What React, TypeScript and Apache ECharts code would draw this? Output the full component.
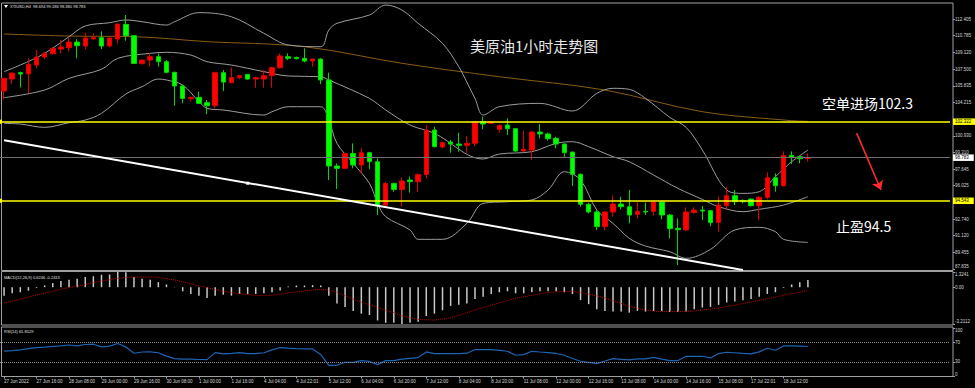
import React, { useEffect, useRef } from 'react';
import * as echarts from 'echarts';

// ---------- data ----------
const timeLabels = [
  '27 Jun 2022', '27 Jun 16:00', '28 Jun 08:00', '29 Jun 00:00', '29 Jun 16:00',
  '30 Jun 08:00', '1 Jul 00:00', '1 Jul 16:00', '4 Jul 04:00', '4 Jul 22:01',
  '5 Jul 12:00', '6 Jul 04:00', '6 Jul 20:00', '7 Jul 12:00', '8 Jul 04:00',
  '8 Jul 20:00', '11 Jul 08:00', '12 Jul 00:00', '12 Jul 16:00', '13 Jul 08:00',
  '14 Jul 00:00', '14 Jul 16:00', '15 Jul 08:00', '17 Jul 22:01', '18 Jul 12:00',
];

// [open, high, low, close]
const candles: number[][] = [
  [105.33, 106.60, 104.51, 106.58], [106.51, 107.15, 106.02, 107.10], [107.14, 107.24, 105.69, 107.01],
  [107.01, 108.55, 105.10, 107.96], [107.89, 109.37, 107.56, 108.68], [108.68, 109.20, 108.48, 109.04],
  [109.01, 109.63, 108.94, 109.53], [109.46, 110.35, 109.04, 109.66], [109.60, 110.51, 109.20, 110.15],
  [110.15, 110.42, 108.55, 109.79], [109.76, 111.07, 109.43, 110.55], [110.45, 111.01, 110.42, 110.58],
  [110.58, 111.20, 109.46, 109.76], [109.76, 110.58, 109.63, 110.55], [110.45, 111.95, 110.02, 111.92],
  [111.89, 112.81, 110.28, 110.78], [110.78, 110.84, 107.99, 108.05], [108.02, 108.42, 107.96, 108.38],
  [108.38, 109.10, 107.73, 108.71], [108.71, 109.04, 107.73, 108.22], [108.22, 108.38, 107.07, 107.17],
  [107.17, 107.24, 103.89, 105.83], [105.83, 105.93, 104.12, 104.61], [104.58, 104.78, 104.29, 104.71],
  [104.71, 105.27, 104.06, 104.12], [104.19, 104.45, 103.07, 103.89], [103.89, 107.24, 103.63, 107.14],
  [107.14, 107.40, 105.33, 106.22], [106.15, 107.66, 106.10, 106.65], [106.65, 106.91, 106.51, 106.84],
  [106.97, 107.00, 106.45, 106.51], [106.51, 106.74, 105.66, 106.65], [106.51, 107.40, 105.66, 106.84],
  [106.84, 107.73, 105.66, 107.63], [107.63, 109.04, 107.56, 108.78], [108.71, 109.04, 108.38, 108.55],
  [108.65, 108.71, 108.45, 108.51], [108.55, 109.53, 108.15, 108.28], [108.28, 108.50, 107.73, 108.48],
  [108.48, 108.55, 106.02, 106.42], [106.42, 107.14, 96.58, 97.96], [97.96, 98.22, 95.70, 97.73],
  [97.73, 99.25, 97.65, 99.20], [99.20, 100.19, 97.73, 98.06], [98.06, 99.70, 97.17, 99.27],
  [99.27, 99.37, 97.63, 98.38], [98.38, 98.71, 93.14, 94.12], [94.12, 96.42, 93.96, 96.25],
  [96.25, 96.32, 95.43, 95.66], [95.66, 96.84, 93.96, 96.48], [96.58, 96.91, 95.34, 96.42],
  [96.42, 97.24, 95.43, 97.11], [97.11, 101.99, 96.74, 101.50], [101.50, 101.83, 99.80, 99.86],
  [99.83, 100.35, 99.70, 100.25], [100.32, 100.52, 99.27, 100.12], [100.12, 101.24, 99.37, 99.99],
  [99.99, 100.91, 99.27, 100.19], [100.19, 102.38, 99.86, 102.32], [102.32, 102.81, 101.56, 102.09],
  [102.16, 102.38, 102.09, 102.32], [101.56, 102.02, 101.24, 101.96], [101.99, 102.65, 101.01, 101.63],
  [101.63, 101.66, 99.37, 99.43], [99.43, 101.43, 99.37, 99.60], [99.53, 101.43, 98.55, 101.30],
  [101.30, 102.09, 100.68, 101.11], [101.11, 101.24, 100.45, 100.65], [100.68, 100.84, 99.70, 100.12],
  [100.12, 100.19, 98.88, 99.27], [99.33, 99.37, 95.99, 97.14], [97.14, 97.24, 93.96, 94.19],
  [94.19, 94.35, 93.30, 93.44], [93.44, 93.63, 91.67, 92.00], [92.00, 93.50, 91.67, 93.44],
  [93.44, 95.07, 92.98, 94.22], [94.22, 94.94, 93.70, 93.96], [93.96, 95.60, 92.32, 93.14],
  [93.21, 94.39, 92.81, 93.50], [93.50, 94.35, 93.14, 93.44], [93.50, 94.45, 93.08, 94.42],
  [94.42, 94.45, 92.71, 93.14], [93.14, 93.24, 90.85, 91.80], [91.84, 92.81, 88.22, 91.70],
  [91.67, 93.89, 91.60, 93.44], [93.37, 93.89, 93.30, 93.63], [93.63, 94.03, 92.65, 93.53],
  [93.57, 93.63, 92.06, 92.39], [92.42, 94.94, 91.50, 94.12], [94.06, 95.93, 93.70, 95.04],
  [95.04, 95.60, 94.12, 94.45], [94.55, 94.68, 94.29, 94.45], [94.71, 94.78, 93.96, 94.06],
  [94.06, 95.01, 92.65, 94.88], [94.88, 97.34, 94.68, 96.81], [96.81, 97.24, 95.43, 96.02],
  [96.02, 99.40, 95.93, 99.01], [99.01, 99.40, 98.16, 98.81], [98.88, 98.94, 98.22, 98.68],
  [98.694, 99.186, 98.380, 98.783],
];

// Bollinger bands and slow MA, read at bar indices: [barIndex, price]
const bollUpper = [
  [0, 107.24], [2, 107.89], [5, 109.04], [8, 110.68], [10, 111.73], [13, 112.05], [15, 112.32],
  [17, 112.15], [20, 111.82], [21, 112.15], [24, 113.04], [28, 112.64], [32, 111.01], [35, 109.86],
  [39, 109.69], [40, 111.33], [41, 111.99], [45, 112.81], [47, 113.79], [49, 113.30], [51, 111.99],
  [54, 110.02], [56, 107.73], [57, 106.2], [58, 104.6], [59, 102.97], [61, 103.79], [66, 104.12],
  [70, 103.37], [73, 105.10], [75, 105.60], [77, 105.50], [79, 104.61], [82, 102.74], [84, 101.76],
  [86, 99.53], [89, 95.60], [91, 95.27], [93, 95.43], [95, 96.91], [97, 98.38], [99, 99.53],
];
const bollMiddle = [
  [0, 104.68], [5, 105.43], [8, 106.58], [12, 107.47], [14, 108.55], [18, 109.04], [20, 109.14],
  [23, 108.87], [25, 108.22], [28, 107.89], [32, 107.24], [35, 106.81], [39, 106.74], [40, 106.42],
  [45, 104.61], [47, 103.47], [50, 101.99], [53, 101.17], [59, 98.65], [61, 99.14], [65, 99.37],
  [68, 100.19], [70, 100.35], [72, 99.86], [75, 98.88], [77, 98.38], [80, 97.07], [83, 95.76],
  [86, 94.68], [88, 93.96], [91, 93.47], [93, 93.70], [96, 94.12], [99, 94.94],
];
const bollLower = [
  [0, 102.15], [2, 102.09], [5, 101.76], [8, 102.22], [10, 102.48], [12, 103.14], [15, 105.04],
  [17, 105.76], [19, 106.51], [20, 106.42], [22, 105.92], [24, 104.29], [25, 103.63], [27, 103.47],
  [32, 102.97], [33, 103.30], [35, 103.79], [39, 103.79], [40, 102.48], [41, 100.19], [43, 98.22],
  [45, 96.25], [46, 94.29], [47, 92.98], [50, 91.67], [51, 90.75], [54, 90.75], [57, 92.32],
  [59, 94.29], [62, 94.45], [65, 94.62], [67, 95.60], [69, 97.40], [71, 96.58], [73, 93.63],
  [75, 92.32], [77, 90.85], [79, 90.09], [82, 89.53], [84, 88.88], [87, 89.76], [90, 91.67],
  [93, 91.93], [95, 91.50], [96, 90.75], [99, 90.45],
];
const slowMA = [
  [0, 110.94], [8, 110.74], [16, 110.68], [25, 110.19], [37, 109.69], [49, 108.06], [61, 106.74],
  [74, 105.43], [86, 103.30], [97, 102.42], [99, 102.35],
];

const macdHist = [
  -0.74, -0.53, -0.44, -0.30, -0.06, 0.15, 0.36, 0.53, 0.65, 0.74, 0.89, 0.95, 1.08, 1.10, 1.3241, 1.30,
  0.89, 0.74, 0.65, 0.44, 0.24, 0.02, -0.36, -0.59, -0.74, -0.95, -0.74, -0.65, -0.74, -0.59, -0.59, -0.59,
  -0.53, -0.44, -0.30, 0.05, 0.15, 0.15, 0.18, 0.15, -0.74, -1.42, -1.72, -2.07, -2.31, -2.43, -2.90, -3.11,
  -3.11, -3.2112, -3.11, -3.02, -2.52, -2.31, -2.01, -1.63, -1.54, -1.42, -1.04, -0.83, -0.59, -0.44, -0.36, -0.53,
  -0.53, -0.44, -0.36, -0.36, -0.36, -0.44, -0.59, -1.13, -1.48, -1.93, -2.07, -2.13, -2.13, -2.22, -2.07, -2.13,
  -2.07, -2.07, -2.16, -2.16, -2.13, -1.93, -1.78, -1.72, -1.54, -1.33, -1.24, -1.13, -1.04, -0.83, -0.59, -0.44,
  -0.06, 0.24, 0.44, 0.6246,
];
const macdSignal = [
  -1.39, -1.21, -1.04, -0.86, -0.68, -0.53, -0.36, -0.18, -0.03, 0.09, 0.24, 0.41, 0.53, 0.65, 0.77, 0.83,
  0.89, 0.89, 0.89, 0.86, 0.74, 0.62, 0.47, 0.30, 0.12, -0.03, -0.21, -0.36, -0.47, -0.56, -0.65, -0.71,
  -0.74, -0.71, -0.62, -0.50, -0.41, -0.33, -0.24, -0.18, -0.24, -0.44, -0.77, -1.04, -1.30, -1.54, -1.78, -2.01,
  -2.22, -2.50, -2.67, -2.81, -2.84, -2.87, -2.78, -2.67, -2.46, -2.22, -1.99, -1.78, -1.57, -1.36, -1.16, -0.98,
  -0.83, -0.71, -0.59, -0.47, -0.41, -0.39, -0.36, -0.47, -0.62, -0.77, -0.95, -1.19, -1.42, -1.66, -1.84, -1.99,
  -2.07, -2.13, -2.13, -2.13, -2.10, -2.07, -1.99, -1.90, -1.81, -1.69, -1.57, -1.42, -1.30, -1.16, -1.01, -0.86,
  -0.71, -0.56, -0.44, -0.2413,
];
const rsi14 = [
  52.5, 53.5, 55, 57.5, 59.5, 60.5, 62, 63, 65, 63, 66, 66.6, 61, 62.5, 68, 61,
  48, 50.5, 50.7, 49, 42, 37, 36, 36, 35, 34.8, 49.3, 46.6, 47.5, 49.3, 47.3, 47.3,
  49, 55, 59.7, 58.5, 57.5, 57, 56.9, 45.2, 23.1, 23.1, 29.3, 29.3, 32.8, 31, 24.5, 32.8,
  32.8, 36, 37.5, 39, 50.7, 47.3, 47.3, 47.3, 47.3, 48, 55.6, 55.6, 55.6, 54, 52.1, 43.8,
  45.2, 52, 50.5, 49.3, 47.5, 43.8, 37, 31.4, 29, 26.5, 32, 36.9, 35.5, 34.1, 36.2, 36.2,
  39.5, 36, 32.8, 32.8, 41.7, 41.7, 41.7, 38.3, 47.3, 50, 49, 47.5, 46.6, 50.7, 58.3, 54.2,
  63, 63.1, 62.5, 61.8529,
];

const priceTicks = [112.405, 110.785, 109.120, 107.500, 105.835, 104.215, 100.930, 99.310, 97.645, 96.025, 92.740, 91.120, 89.455];
const priceBottomTick = [87.835];
const macdTopTick = [1.3241];
const macdMidTick = [0];
const macdBottomTick = [-3.2112];
const rsiTopTick = [100];
const rsiMidTicks = [70, 30];
const rsiBottomTick = [0];
const rsiLevels = [70, 30];
const entryLevel = 102.322;
const takeProfitLevel = 94.543;
const lastPrice = 98.783;
const trendLine = [[0, 100.50], [91, 87.74]];
const trendMarker = [30, 96.27];
const arrowLine = [[105, 101.2], [108, 95.6]];

const headerText = 'XTIUSD,H4  98.694 99.186 98.380 98.783';
const macdHeader = 'MACD(12,26,9) 0.6246 -0.2413';
const rsiHeader = 'RSI(14) 61.8529';
const titleText = '美原油1小时走势图';
const entryText = '空单进场102.3';
const tpText = '止盈94.5';

// ---------- layout ----------
const SLOTS = 117;
const GRID_W = 950;
const TINY = 4.5;
const TINY_FONT = 'Liberation Sans, Arial, sans-serif';
const CJK_FONT = 'Noto Sans CJK SC, sans-serif';
const MAIN_RANGE = [87.735, 113.99];
const MACD_RANGE = [-3.2112, 1.3241];
const RSI_RANGE = [0, 100];

const categories = Array.from({ length: SLOTS }, (_, i) => String(i));
const showTime = (i: number) => i % 4 === 0 && i / 4 < timeLabels.length;

function buildOption() {
  const candleData = candles.map(([o, h, l, c]) => [o, c, l, h]);
  const xBase = (gi: number, show: boolean) => ({
    type: 'category',
    gridIndex: gi,
    data: categories,
    boundaryGap: true,
    axisLine: { show: false },
    splitLine: { show: false },
    axisTick: show
      ? { show: true, alignWithLabel: true, interval: (i: number) => showTime(i), length: 2, lineStyle: { color: '#a0a0a0' } }
      : { show: false },
    axisLabel: show
      ? {
          show: true,
          interval: (i: number) => showTime(i),
          formatter: (_v: string, i: number) => (showTime(i) ? timeLabels[i / 4] : ''),
          color: '#d8d8d8',
          fontSize: TINY,
          fontFamily: TINY_FONT,
          align: 'left',
          margin: 2,
        }
      : { show: false },
  });
  const yBase = (
    gi: number,
    range: number[],
    ticks: number[],
    fmt: (v: number) => string,
    vAlign: string,
  ) => ({
    type: 'value',
    gridIndex: gi,
    position: 'right',
    offset: 3,
    min: range[0],
    max: range[1],
    splitLine: { show: false },
    axisLine: { show: false },
    axisTick: { show: true, customValues: ticks, length: 2, lineStyle: { color: '#a0a0a0' } },
    axisLabel: {
      show: true,
      customValues: ticks,
      formatter: fmt,
      color: '#d8d8d8',
      fontSize: TINY,
      fontFamily: TINY_FONT,
      margin: 2,
      verticalAlign: vAlign,
    },
  });

  const boxLabel = (bg: string, text: string) => ({
    show: true,
    position: 'end',
    distance: 3,
    formatter: text,
    color: '#000',
    backgroundColor: bg,
    fontSize: TINY,
    fontFamily: TINY_FONT,
    padding: [1, 5, 0.5, 2],
  });

  const bandLine = (name: string, data: number[][], color: string, extra: any = {}) => ({
    name,
    type: 'line',
    xAxisIndex: 0,
    yAxisIndex: 0,
    data,
    showSymbol: false,
    symbol: 'none',
    smooth: 0.35,
    connectNulls: true,
    lineStyle: { color, width: 1 },
    z: 3,
    silent: true,
    ...extra,
  });

  const f3 = (v: number) => v.toFixed(3);
  const f4 = (v: number) => v.toFixed(4);

  return {
    animation: false,
    backgroundColor: '#000',
    grid: [
      { left: 0, top: 3, width: GRID_W, height: 267, outerBoundsMode: 'none' },
      { left: 0, top: 272, width: GRID_W, height: 52, outerBoundsMode: 'none' },
      { left: 0, top: 328, width: GRID_W, height: 48.5, outerBoundsMode: 'none' },
    ],
    xAxis: [xBase(0, false), xBase(1, false), xBase(2, true)],
    yAxis: [
      yBase(0, MAIN_RANGE, priceTicks, f3, 'middle'), // 0
      yBase(1, MACD_RANGE, macdMidTick, () => '0.00', 'middle'), // 1
      yBase(2, RSI_RANGE, rsiMidTicks, (v) => String(v), 'middle'), // 2
      yBase(0, MAIN_RANGE, priceBottomTick, f3, 'bottom'), // 3
      yBase(1, MACD_RANGE, macdTopTick, f4, 'top'), // 4
      yBase(1, MACD_RANGE, macdBottomTick, f4, 'bottom'), // 5
      yBase(2, RSI_RANGE, rsiTopTick, (v) => String(v), 'top'), // 6
      yBase(2, RSI_RANGE, rsiBottomTick, (v) => String(v), 'bottom'), // 7
    ],
    graphic: [
      { type: 'rect', shape: { x: 1.5, y: 3, width: 951.5, height: 267.5 }, style: { fill: 'none', stroke: '#a0a0a0', lineWidth: 1 }, silent: true },
      { type: 'rect', shape: { x: 1.5, y: 271.5, width: 951.5, height: 53.5 }, style: { fill: 'none', stroke: '#a0a0a0', lineWidth: 1 }, silent: true },
      { type: 'rect', shape: { x: 1.5, y: 327, width: 951.5, height: 49.5 }, style: { fill: 'none', stroke: '#a0a0a0', lineWidth: 1 }, silent: true },
      { type: 'polygon', shape: { points: [[4, 5], [8, 5], [6, 8]] }, style: { fill: '#ffffff' }, silent: true },
      { type: 'text', x: 10, y: 6.5, style: { text: headerText, fill: '#e0e0e0', fontSize: 4, fontFamily: TINY_FONT, verticalAlign: 'middle' }, silent: true },
      { type: 'text', x: 4, y: 277, style: { text: macdHeader, fill: '#e0e0e0', fontSize: 4, fontFamily: TINY_FONT, verticalAlign: 'middle' }, silent: true },
      { type: 'text', x: 4, y: 331, style: { text: rsiHeader, fill: '#e0e0e0', fontSize: 4, fontFamily: TINY_FONT, verticalAlign: 'middle' }, silent: true },
      { type: 'text', x: 470, y: 45, style: { text: titleText, fill: '#e8e8e8', fontSize: 15, fontFamily: CJK_FONT, verticalAlign: 'middle' }, silent: true },
      { type: 'text', x: 822, y: 103, style: { text: entryText, fill: '#ffffff', fontSize: 14, fontFamily: CJK_FONT, verticalAlign: 'middle' }, silent: true },
      { type: 'text', x: 836, y: 226, style: { text: tpText, fill: '#ffffff', fontSize: 14, fontFamily: CJK_FONT, verticalAlign: 'middle' }, silent: true },
    ],
    series: [
      bandLine('ma', slowMA, '#8a5c12'),
      bandLine('upper', bollUpper, '#9c9c9c'),
      bandLine('middle', bollMiddle, '#9c9c9c', {
        markLine: {
          silent: true,
          animation: false,
          symbol: ['rect', 'none'],
          symbolSize: 4,
          lineStyle: { color: '#ffff00', width: 1.6, type: 'solid' },
          data: [
            { yAxis: entryLevel, label: boxLabel('#ffff00', entryLevel.toFixed(3)) },
            { yAxis: takeProfitLevel, label: boxLabel('#ffff00', takeProfitLevel.toFixed(3)) },
          ],
          z: 6,
        },
      }),
      bandLine('lower', bollLower, '#9c9c9c'),
      {
        name: 'XTIUSD',
        type: 'candlestick',
        xAxisIndex: 0,
        yAxisIndex: 0,
        data: candleData,
        barWidth: 5,
        z: 4,
        itemStyle: {
          color: '#ff0000',
          color0: '#00ff00',
          borderColor: '#e00000',
          borderColor0: '#00d800',
          borderWidth: 1,
        },
        markLine: {
          silent: true,
          animation: false,
          symbol: 'none',
          z: 7,
          data: [
            { yAxis: lastPrice, lineStyle: { color: '#6e6e6e', width: 1, type: 'solid' }, label: boxLabel('#ffffff', lastPrice.toFixed(3)) },
            [
              { coord: trendLine[0], symbol: 'none', lineStyle: { color: '#ffffff', width: 2, type: 'solid' }, label: { show: false } },
              { coord: trendLine[1], symbol: 'none' },
            ],
            [
              { coord: arrowLine[0], symbol: 'none', lineStyle: { color: '#ff2a2a', width: 1.6, type: 'solid' }, label: { show: false } },
              { coord: arrowLine[1], symbol: 'arrow', symbolSize: 9 },
            ],
          ],
        },
        markPoint: {
          silent: true,
          animation: false,
          symbol: 'rect',
          symbolSize: 3,
          itemStyle: { color: '#ffffff' },
          label: { show: false },
          data: [{ coord: trendMarker }],
        },
      },
      {
        name: 'MACD',
        type: 'bar',
        xAxisIndex: 1,
        yAxisIndex: 1,
        data: macdHist,
        barWidth: 1.5,
        itemStyle: { color: '#c8c8c8' },
        silent: true,
      },
      {
        name: 'Signal',
        type: 'line',
        xAxisIndex: 1,
        yAxisIndex: 1,
        data: macdSignal,
        showSymbol: false,
        symbol: 'none',
        lineStyle: { color: '#c00000', width: 1, type: 'dotted' },
        silent: true,
        z: 4,
      },
      {
        name: 'RSI',
        type: 'line',
        xAxisIndex: 2,
        yAxisIndex: 2,
        data: rsi14,
        showSymbol: false,
        symbol: 'none',
        lineStyle: { color: '#1e64b4', width: 1.2 },
        silent: true,
        markLine: {
          silent: true,
          animation: false,
          symbol: 'none',
          label: { show: false },
          lineStyle: { color: '#8c8c8c', width: 1, type: 'dotted' },
          data: rsiLevels.map((v) => ({ yAxis: v })),
        },
      },
    ],
  };
}

export default function App() {
  const ref = useRef<HTMLDivElement>(null);
  useEffect(() => {
    document.body.style.margin = '0';
    document.body.style.background = '#000';
    const chart = echarts.init(ref.current as HTMLDivElement, null, { renderer: 'svg' });
    chart.setOption(buildOption() as any);
    return () => chart.dispose();
  }, []);
  return <div ref={ref} style={{ position: 'absolute', left: 0, top: 0, width: 975, height: 388, background: '#000' }} />;
}
